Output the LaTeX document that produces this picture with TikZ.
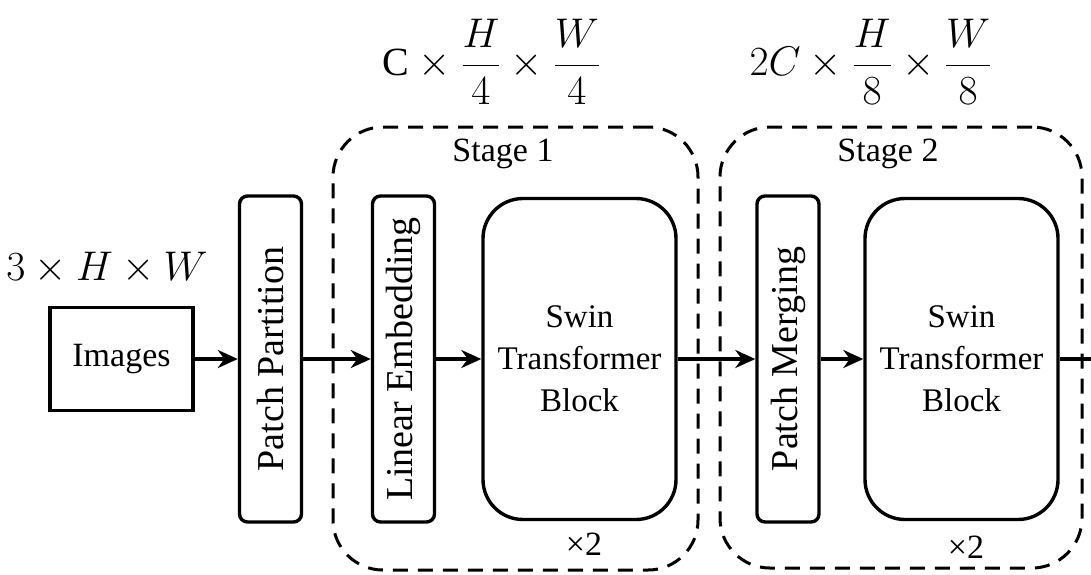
\documentclass[tikz,border=0pt]{standalone}
\usepackage{amsmath}
\usepackage{fontspec}
\setmainfont{Liberation Serif}
\usepackage{tikz}
\usetikzlibrary{positioning, arrows.meta}

\begin{document}
\begin{tikzpicture}[
  x=0.5pt, y=-0.5pt,
  >={Stealth[length=10pt, width=9pt]},
  font=\fontsize{17}{21}\selectfont,
  B/.style={draw, rectangle, line width=1.7pt, align=center, inner sep=0pt},
  Bimg/.style={B, minimum width=71.5pt, minimum height=51.5pt},
  Bbar/.style={B, rounded corners=4pt, rotate=90,
               font=\fontsize{19}{22}\selectfont,
               minimum width=163pt, minimum height=31pt},
  Bswin/.style={B, rounded corners=20pt,
                font=\fontsize{16.5}{21}\selectfont,
                minimum width=96.5pt, minimum height=160.5pt},
  Bstage/.style={draw, rectangle, rounded corners=25pt, line width=1.5pt,
                 dash pattern=on 7.5pt off 5pt},
  dims/.style={font=\fontsize{20}{24}\selectfont},
  arr/.style={->, line width=1.7pt},
]
\useasboundingbox (0,0) rectangle (1091,574);

%% ---- Stage frames ----
\node[Bstage, minimum width=182.5pt, minimum height=221.5pt]
  (st1) at (515.5,348.5) {};
\node[Bstage, minimum width=181pt, minimum height=220.5pt]
  (st2) at (901,347.5) {};
\node (st1lbl) at (503,154) {Stage 1};
\node (st2lbl) at (888,154) {Stage 2};

%% ---- Blocks ----
\node[Bimg]  (img) at (121.5,359) {Images};
\node[Bbar]  (pp)  at (270.5,359) {Patch Partition};
\node[Bbar]  (le)  at (403.5,359) {Linear Embedding};
\node[Bswin] (sw1) at (579.5,359) {Swin\\Transformer\\Block};
\node[Bbar]  (pm)  at (788,359)   {Patch Merging};
\node[Bswin] (sw2) at (961.5,359) {Swin\\Transformer\\Block};
\coordinate (out) at (1091,359);

\node (rep1) at (584,544) {×2};
\node (rep2) at (966,547) {×2};

%% ---- Sizes ----
\node[dims] (d0) at (107,268) {$3\times H\times W$};
\node[dims] (d1) at (492,62)
  {$\mathrm{C}\times\dfrac{H}{4}\times\dfrac{W}{4}$};
\node[dims] (d2) at (871,62)
  {$2C\times\dfrac{H}{8}\times\dfrac{W}{8}$};

%% ---- Connectors ----
\draw[arr] (img) -- (pp);
\draw[arr] (pp)  -- (le);
\draw[arr] (le)  -- (sw1);
\draw[arr] (sw1) -- (pm);
\draw[arr] (pm)  -- (sw2);
\draw[line width=1.7pt] (sw2) -- (out);

\end{tikzpicture}
\end{document}
